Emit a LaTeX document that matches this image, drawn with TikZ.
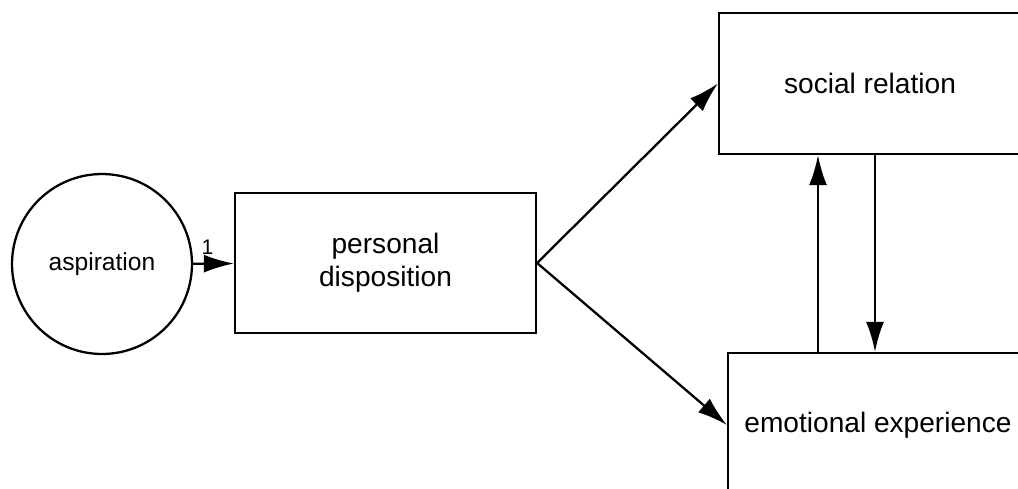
\documentclass[tikz,border=0pt]{standalone}
\usepackage{fontspec}
\setmainfont{Liberation Sans}
\usetikzlibrary{arrows.meta}

\tikzstyle{box} = [draw,rectangle,line width=1.3pt,align=center,font=\fontsize{16}{19}\selectfont]
\tikzstyle{latent} = [draw,circle,line width=1.3pt,minimum size=3.6cm,font=\fontsize{14}{17}\selectfont]
\tikzstyle{link} = [->,>={Latex[length=6mm,width=3.6mm]},line width=1.3pt]

\begin{document}
\begin{tikzpicture}[x=0.02cm,y=-0.02cm]
	\useasboundingbox (0,0) rectangle (1018,488);
	\clip (0,0) rectangle (1018,488);
	\node[latent] (asp) at (102,264) {aspiration};
	\node[box,minimum width=6.02cm,minimum height=2.8cm] (pd) at (385.5,263) {personal\\disposition};
	\node[box,minimum width=6.04cm,minimum height=2.82cm] (soc) at (870,83.5) {social relation};
	\node[box,minimum width=6cm,minimum height=2.88cm] (emo) at (878,425) {emotional experience};
	\coordinate (up) at (818,0);
	\coordinate (down) at (875,0);
	
	\draw[link] (asp) -- node[pos=0.35,above,yshift=1pt,font=\fontsize{12}{14}\selectfont] {1} (pd);
	\draw[link] (pd.east) -- (soc.west);
	\draw[link] (pd.east) -- (emo.west);
	\draw[link] (emo.north -| up) -- (soc.south -| up);
	\draw[link] (soc.south -| down) -- (emo.north -| down);
\end{tikzpicture}
\end{document}
